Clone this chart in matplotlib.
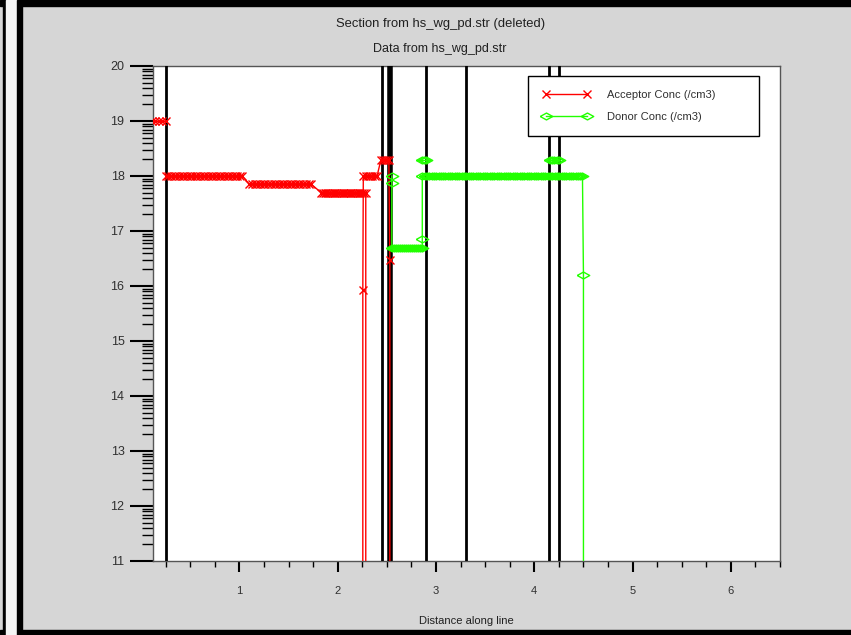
import matplotlib
matplotlib.use("Agg")
import matplotlib.pyplot as plt
import numpy as np
from matplotlib.patches import Rectangle

plt.rcParams['font.family'] = ['Liberation Sans', 'DejaVu Sans']

# titles / labels
title1 = "Section from hs_wg_pd.str (deleted)"
title2 = "Data from hs_wg_pd.str"
xlabel = "Distance along line"
acc_label = "Acceptor Conc (/cm3)"
don_label = "Donor Conc (/cm3)"

# region boundaries (black vertical lines)
boundaries = [0.25, 2.45, 2.53, 2.90, 3.30, 4.15, 4.25]

# acceptor, flat parts: start, end, level (log10 /cm3)
acc_start = [0.0, 0.25, 1.10, 1.83, 2.26, 2.44]
acc_end = [0.25, 1.03, 1.73, 2.285, 2.40, 2.52]
acc_level = [19.0, 18.0, 17.85, 17.70, 18.0, 18.3]
acc_nodes = [8, 30, 24, 26, 7, 5]
# single points on the acceptor edges
acc_edge_x = [2.285, 2.255, 2.255, 2.53, 2.53]
acc_edge_y = [10.5, 10.5, 15.93, 16.47, 10.5]

# donor, flat parts
don_start = [2.55, 2.86, 2.855, 4.16]
don_end = [2.86, 4.49, 2.895, 4.25]
don_level = [16.7, 18.0, 18.3, 18.3]
don_nodes = [16, 70, 3, 5]
don_edge_x = [2.55, 2.55, 2.86, 4.50, 4.50]
don_edge_y = [18.0, 17.88, 16.86, 16.2, 10.5]


def flat(i, start, end, level, nodes):
    xs = np.linspace(start[i], end[i], nodes[i])
    return xs, np.full(nodes[i], level[i])


RED = '#ff0000'
GREEN = '#22ff00'
diamond = [(-1, 0), (0, 0.55), (1, 0), (0, -0.55), (-1, 0)]

fig = plt.figure(figsize=(8.51, 6.35), dpi=100)
fig.patch.set_facecolor('#d6d6d6')

# window frame
fig.add_artist(Rectangle((0, 629 / 635), 1, 6 / 635, transform=fig.transFigure, color='black'))
fig.add_artist(Rectangle((0, 0), 1, 5 / 635, transform=fig.transFigure, color='black'))
fig.add_artist(Rectangle((3 / 851, 0), 3 / 851, 1, transform=fig.transFigure, color='black'))
fig.add_artist(Rectangle((6 / 851, 0), 11 / 851, 1, transform=fig.transFigure, color='#f4f4f4'))
fig.add_artist(Rectangle((17 / 851, 0), 5 / 851, 1, transform=fig.transFigure, color='black'))

ax = fig.add_axes([153 / 851, 1 - 561 / 635, 627 / 851, 495 / 635])
ax.set_facecolor('white')

for b, lw in zip(boundaries, [2, 2, 4, 2, 2, 2, 2]):
    ax.axvline(b, color='black', lw=lw, zorder=3)

mk_acc = dict(color=RED, lw=1, marker='x', ms=6, mew=1, zorder=4)
mk_don = dict(color=GREEN, lw=1, marker=diamond, ms=9, mew=1, mfc='none', zorder=4)

# acceptor region 1
x, y = flat(0, acc_start, acc_end, acc_level, acc_nodes)
ax.plot(x, y, **mk_acc, label=acc_label)
# acceptor region 2: three steps then drop
xs, ys = [], []
for i in [1, 2, 3]:
    x, y = flat(i, acc_start, acc_end, acc_level, acc_nodes)
    xs += list(x)
    ys += list(y)
xs.append(acc_edge_x[0])
ys.append(acc_edge_y[0])
ax.plot(xs, ys, **mk_acc)
# acceptor region 3
xs = [acc_edge_x[1], acc_edge_x[2]]
ys = [acc_edge_y[1], acc_edge_y[2]]
for i in [4, 5]:
    x, y = flat(i, acc_start, acc_end, acc_level, acc_nodes)
    xs += list(x)
    ys += list(y)
xs += acc_edge_x[3:]
ys += acc_edge_y[3:]
ax.plot(xs, ys, **mk_acc)

# donor main region
xs = don_edge_x[:2]
ys = don_edge_y[:2]
x, y = flat(0, don_start, don_end, don_level, don_nodes)
xs = xs + list(x) + [don_edge_x[2]]
ys = ys + list(y) + [don_edge_y[2]]
x, y = flat(1, don_start, don_end, don_level, don_nodes)
xs = xs + list(x) + don_edge_x[3:]
ys = ys + list(y) + don_edge_y[3:]
ax.plot(xs, ys, **mk_don, label=don_label)
for i in [2, 3]:
    x, y = flat(i, don_start, don_end, don_level, don_nodes)
    ax.plot(x, y, **mk_don)

ax.set_xlim(0.12, 6.5)
ax.set_ylim(11, 20)

ax.set_xticks([1, 2, 3, 4, 5, 6])
ax.set_xticks([v for v in np.arange(0.25, 6.51, 0.25) if v % 1], minor=True)
ax.set_yticks(range(11, 21))
ax.set_yticks([n + np.log10(k) for n in range(11, 20) for k in range(2, 10)], minor=True)
ax.tick_params(axis='y', which='major', direction='out', length=16.5, width=1.5, pad=4,
               labelsize=9, labelcolor='#303030')
ax.tick_params(axis='y', which='minor', direction='out', length=8, width=1)
ax.tick_params(axis='x', which='major', direction='out', length=8, width=1.5, pad=10,
               labelsize=8, labelcolor='#303030')
ax.tick_params(axis='x', which='minor', direction='out', length=4.3, width=1)

for s in ax.spines.values():
    s.set_color('#555555')
    s.set_linewidth(1)

fig.text(441 / 851, 1 - 24 / 635, title1, ha='center', va='center', fontsize=9.4, color='#202020')
fig.text(440 / 851, 1 - 49 / 635, title2, ha='center', va='center', fontsize=9, color='#202020')
fig.text(466 / 851, 1 - 621 / 635, xlabel, ha='center', va='center', fontsize=8, color='#202020')

leg = ax.legend(loc='upper left', bbox_to_anchor=(0.598, 0.867, 0.368, 0.113), mode='expand',
                borderaxespad=0, numpoints=2,
                fancybox=False, framealpha=1, edgecolor='black', fontsize=8,
                handlelength=4.3, handletextpad=1.5, labelspacing=1.05, borderpad=1.3)
leg.get_frame().set_linewidth(1)
for t in leg.get_texts():
    t.set_color('#303030')

fig.savefig('out.png', dpi=100, facecolor=fig.get_facecolor())
